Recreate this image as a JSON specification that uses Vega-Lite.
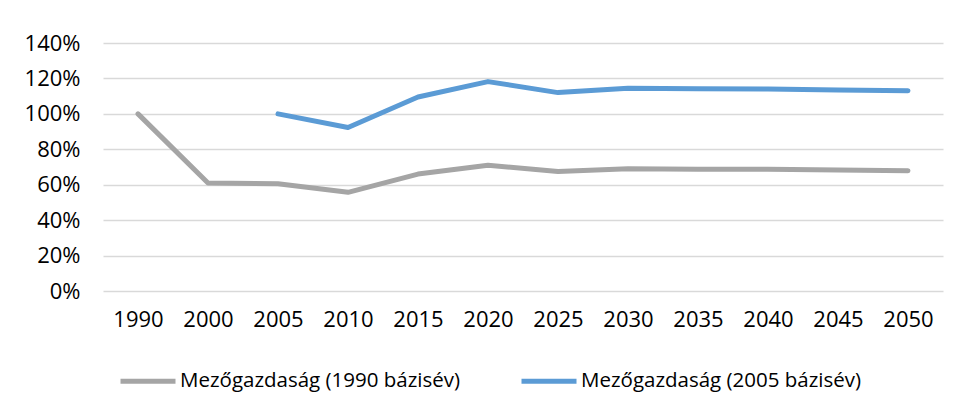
{
  "$schema": "https://vega.github.io/schema/vega-lite/v6.json",
  "autosize": {"type": "none"},
  "width": 840,
  "height": 248,
  "padding": {"left": 103, "top": 43, "right": 14, "bottom": 117},
  "background": "white",
  "config": {
    "view": {"stroke": null},
    "font": "Open Sans"
  },
  "data": {
    "values": [
      {"year": "1990", "series": "Mezőgazdaság (1990 bázisév)", "value": 1.0},
      {"year": "2000", "series": "Mezőgazdaság (1990 bázisév)", "value": 0.61},
      {"year": "2005", "series": "Mezőgazdaság (1990 bázisév)", "value": 0.605},
      {"year": "2010", "series": "Mezőgazdaság (1990 bázisév)", "value": 0.557},
      {"year": "2015", "series": "Mezőgazdaság (1990 bázisév)", "value": 0.66},
      {"year": "2020", "series": "Mezőgazdaság (1990 bázisév)", "value": 0.71},
      {"year": "2025", "series": "Mezőgazdaság (1990 bázisév)", "value": 0.675},
      {"year": "2030", "series": "Mezőgazdaság (1990 bázisév)", "value": 0.69},
      {"year": "2035", "series": "Mezőgazdaság (1990 bázisév)", "value": 0.688},
      {"year": "2040", "series": "Mezőgazdaság (1990 bázisév)", "value": 0.687},
      {"year": "2045", "series": "Mezőgazdaság (1990 bázisév)", "value": 0.683},
      {"year": "2050", "series": "Mezőgazdaság (1990 bázisév)", "value": 0.679},
      {"year": "2005", "series": "Mezőgazdaság (2005 bázisév)", "value": 1.0},
      {"year": "2010", "series": "Mezőgazdaság (2005 bázisév)", "value": 0.923},
      {"year": "2015", "series": "Mezőgazdaság (2005 bázisév)", "value": 1.095},
      {"year": "2020", "series": "Mezőgazdaság (2005 bázisév)", "value": 1.182},
      {"year": "2025", "series": "Mezőgazdaság (2005 bázisév)", "value": 1.12},
      {"year": "2030", "series": "Mezőgazdaság (2005 bázisév)", "value": 1.145},
      {"year": "2035", "series": "Mezőgazdaság (2005 bázisév)", "value": 1.142},
      {"year": "2040", "series": "Mezőgazdaság (2005 bázisév)", "value": 1.14},
      {"year": "2045", "series": "Mezőgazdaság (2005 bázisév)", "value": 1.135},
      {"year": "2050", "series": "Mezőgazdaság (2005 bázisév)", "value": 1.13}
    ]
  },
  "mark": {"type": "line", "strokeWidth": 5, "strokeCap": "round", "strokeJoin": "round"},
  "encoding": {
    "x": {
      "field": "year",
      "type": "ordinal",
      "sort": null,
      "scale": {"type": "point", "padding": 0.5},
      "axis": {
        "title": null,
        "labelAngle": 0,
        "ticks": false,
        "domain": false,
        "grid": false,
        "labelFontSize": 22,
        "labelColor": "#000000",
        "labelPadding": 18,
        "labelBaseline": "top"
      }
    },
    "y": {
      "field": "value",
      "type": "quantitative",
      "scale": {"domain": [0, 1.4], "nice": false},
      "axis": {
        "title": null,
        "values": [0, 0.2, 0.4, 0.6, 0.8, 1.0, 1.2, 1.4],
        "format": ".0%",
        "ticks": false,
        "domain": false,
        "grid": true,
        "gridColor": "#d9d9d9",
        "gridWidth": 1.5,
        "labelFontSize": 22,
        "labelColor": "#000000",
        "labelPadding": 23
      }
    },
    "color": {
      "field": "series",
      "type": "nominal",
      "scale": {
        "domain": ["Mezőgazdaság (1990 bázisév)", "Mezőgazdaság (2005 bázisév)"],
        "range": ["#a5a5a5", "#5b9bd5"]
      },
      "legend": {
        "title": null,
        "orient": "none",
        "legendX": 15,
        "legendY": 308,
        "direction": "horizontal",
        "symbolType": "stroke",
        "symbolSize": 3025,
        "symbolStrokeWidth": 5,
        "labelFontSize": 20.5,
        "labelColor": "#000000",
        "labelOffset": 2,
        "columnPadding": 50,
        "labelLimit": 400
      }
    }
  }
}
